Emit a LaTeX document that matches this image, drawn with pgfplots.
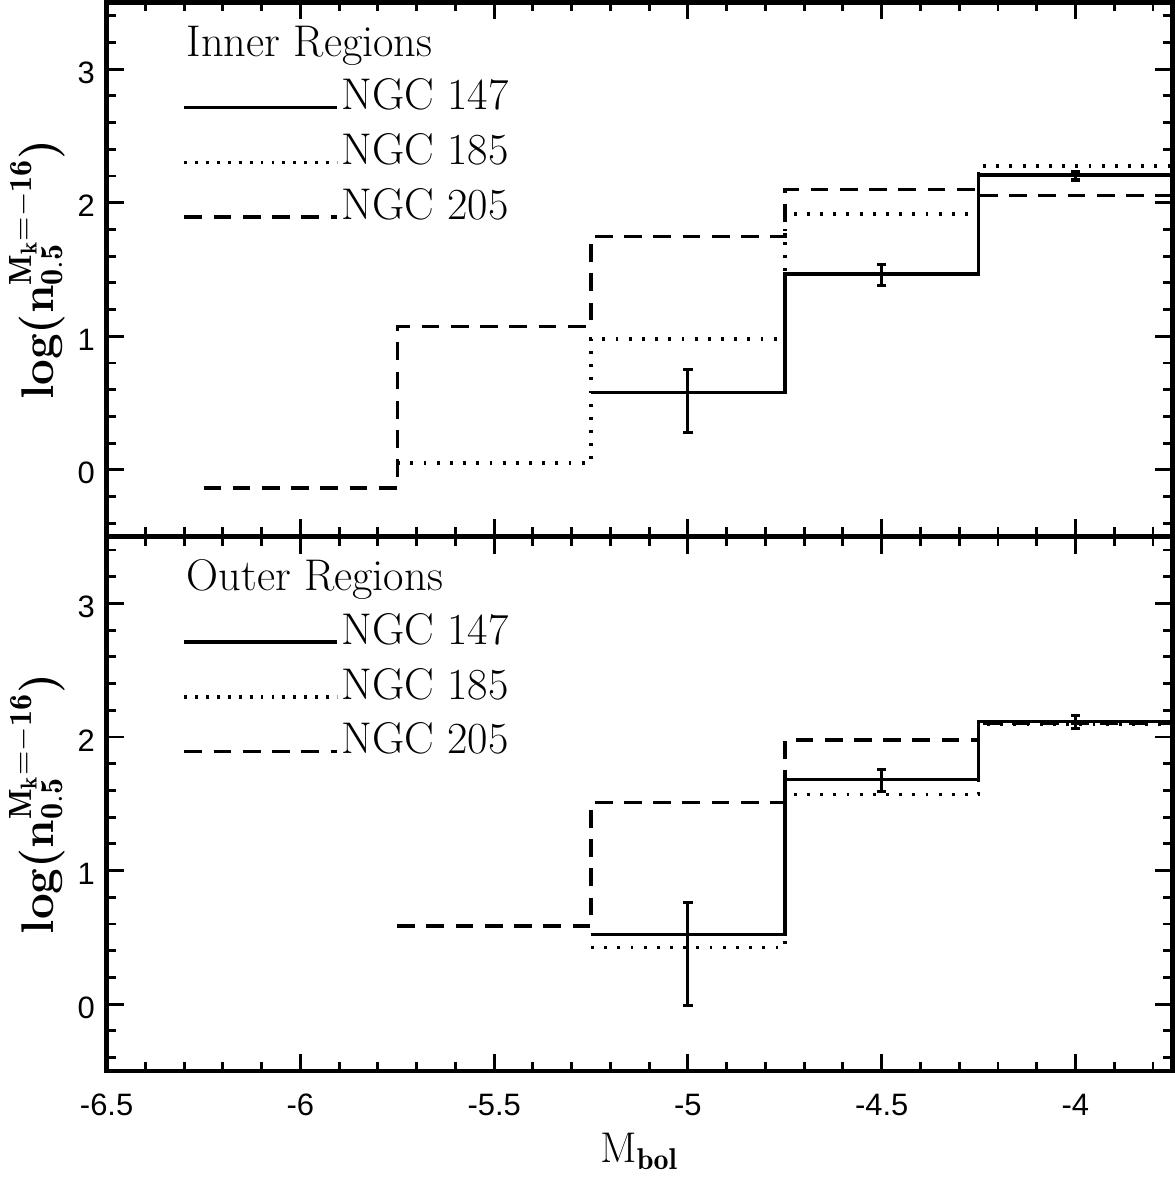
\documentclass[border=0pt]{standalone}
\usepackage{fontspec}
\setsansfont{Liberation Sans}
\usepackage{pgfplots}
\pgfplotsset{compat=1.18}

\pgfplotsset{
  panel/.style={
    width=372.05pt, height=186.55pt, scale only axis,
    xmin=-6.5, xmax=-3.75, ymin=-0.5, ymax=3.5,
    xtick={-6.5,-6,-5.5,-5,-4.5,-4},
    minor xtick={-6.4,-6.3,-6.2,-6.1,-5.9,-5.8,-5.7,-5.6,-5.4,-5.3,-5.2,-5.1,-4.9,-4.8,-4.7,-4.6,-4.4,-4.3,-4.2,-4.1,-3.9,-3.8},
    ytick={0,1,2,3},
    minor ytick={-0.4,-0.2,0.2,0.4,0.6,0.8,1.2,1.4,1.6,1.8,2.2,2.4,2.6,2.8,3.2,3.4},
    tick align=inside,
    major tick length=6pt, minor tick length=3.2pt,
    every tick/.style={black, line width=1pt},
    line width=1.6pt,
    unbounded coords=jump,
    /pgf/number format/assume math mode=true,
    tick label style={font=\sffamily\fontsize{10.8}{12}\selectfont},
    yticklabel style={yshift=-1.2pt},
    xticklabel style={yshift=-4pt},
    ylabel={\fontsize{16}{18}\selectfont\bfseries log(n$^{\mathbf{M_k=-16}}_{\mathbf{0.5}}$)},
    ylabel style={at={(axis description cs:-0.065,0.5)}, anchor=center},
  },
  h147/.style={black, line width=1.2pt, const plot, mark=none},
  h185/.style={black, line width=1.2pt, const plot, mark=none, dash pattern=on 1pt off 3.6pt},
  h205/.style={black, line width=1.2pt, const plot, mark=none, dash pattern=on 6.2pt off 4pt},
  ebar/.style={black, line width=1.1pt, mark=none},
}

\begin{document}
\begin{tikzpicture}
\begin{axis}[panel, name=upper, at={(0,0)}, anchor=north west, xticklabels={}]
\addplot[h147] coordinates {(-5.25,0.577) (-4.75,1.466) (-4.25,2.208) (-3.75,2.208)};
\addplot[h185] coordinates {(-5.75,0.05) (-5.25,0.98) (-4.75,1.915) (-4.25,2.273) (-3.75,2.273)};
\addplot[h205] coordinates {(-6.25,-0.135) (-5.75,1.075) (-5.25,1.747) (-4.75,2.10) (-4.25,2.055) (-3.75,2.055)};
\addplot[ebar] coordinates {
  (-5,0.28) (-5,0.75) (nan,nan) (-5.012,0.75) (-4.988,0.75) (nan,nan) (-5.012,0.28) (-4.988,0.28) (nan,nan)
  (-4.5,1.38) (-4.5,1.54) (nan,nan) (-4.512,1.54) (-4.488,1.54) (nan,nan) (-4.512,1.38) (-4.488,1.38) (nan,nan)
  (-4,2.17) (-4,2.235) (nan,nan) (-4.012,2.235) (-3.988,2.235) (nan,nan) (-4.012,2.17) (-3.988,2.17)
};
\node[anchor=base west, inner sep=0pt, font=\fontsize{15.5}{18}\selectfont] at (rel axis cs:0.073,0.899) {Inner Regions};
\draw[line width=1.2pt] (rel axis cs:0.073,0.803) -- (rel axis cs:0.216,0.803);
\draw[line width=1.2pt, dash pattern=on 1pt off 2.8pt] (rel axis cs:0.073,0.700) -- (rel axis cs:0.216,0.700);
\draw[line width=1.2pt, dash pattern=on 6.2pt off 4pt] (rel axis cs:0.073,0.598) -- (rel axis cs:0.216,0.598);
\node[anchor=base west, inner sep=0pt, font=\fontsize{15.5}{18}\selectfont] at (rel axis cs:0.218,0.799) {NGC 147};
\node[anchor=base west, inner sep=0pt, font=\fontsize{15.5}{18}\selectfont] at (rel axis cs:0.218,0.696) {NGC 185};
\node[anchor=base west, inner sep=0pt, font=\fontsize{15.5}{18}\selectfont] at (rel axis cs:0.218,0.594) {NGC 205};
\end{axis}

\begin{axis}[panel, name=lower, at={(upper.south west)}, anchor=north west,
  xlabel={\fontsize{15}{17}\selectfont M$_{\mathbf{bol}}$},
  xlabel style={at={(axis description cs:0.5,0)}, anchor=base, yshift=-32pt}]
\addplot[h147] coordinates {(-5.25,0.521) (-4.75,1.682) (-4.25,2.115) (-3.75,2.115)};
\addplot[h185] coordinates {(-5.25,0.424) (-4.75,1.569) (-4.25,2.095) (-3.75,2.095)};
\addplot[h205] coordinates {(-5.75,0.584) (-5.25,1.511) (-4.75,1.977) (-4.25,2.103) (-3.75,2.103)};
\addplot[ebar] coordinates {
  (-5,-0.01) (-5,0.76) (nan,nan) (-5.012,0.76) (-4.988,0.76) (nan,nan) (-5.012,-0.01) (-4.988,-0.01) (nan,nan)
  (-4.5,1.592) (-4.5,1.757) (nan,nan) (-4.512,1.757) (-4.488,1.757) (nan,nan) (-4.512,1.592) (-4.488,1.592) (nan,nan)
  (-4,2.063) (-4,2.163) (nan,nan) (-4.012,2.163) (-3.988,2.163) (nan,nan) (-4.012,2.063) (-3.988,2.063)
};
\node[anchor=base west, inner sep=0pt, font=\fontsize{15.5}{18}\selectfont] at (rel axis cs:0.073,0.899) {Outer Regions};
\draw[line width=1.2pt] (rel axis cs:0.073,0.803) -- (rel axis cs:0.216,0.803);
\draw[line width=1.2pt, dash pattern=on 1pt off 2.8pt] (rel axis cs:0.073,0.700) -- (rel axis cs:0.216,0.700);
\draw[line width=1.2pt, dash pattern=on 6.2pt off 4pt] (rel axis cs:0.073,0.598) -- (rel axis cs:0.216,0.598);
\node[anchor=base west, inner sep=0pt, font=\fontsize{15.5}{18}\selectfont] at (rel axis cs:0.218,0.799) {NGC 147};
\node[anchor=base west, inner sep=0pt, font=\fontsize{15.5}{18}\selectfont] at (rel axis cs:0.218,0.696) {NGC 185};
\node[anchor=base west, inner sep=0pt, font=\fontsize{15.5}{18}\selectfont] at (rel axis cs:0.218,0.594) {NGC 205};
\end{axis}
\end{tikzpicture}
\end{document}
